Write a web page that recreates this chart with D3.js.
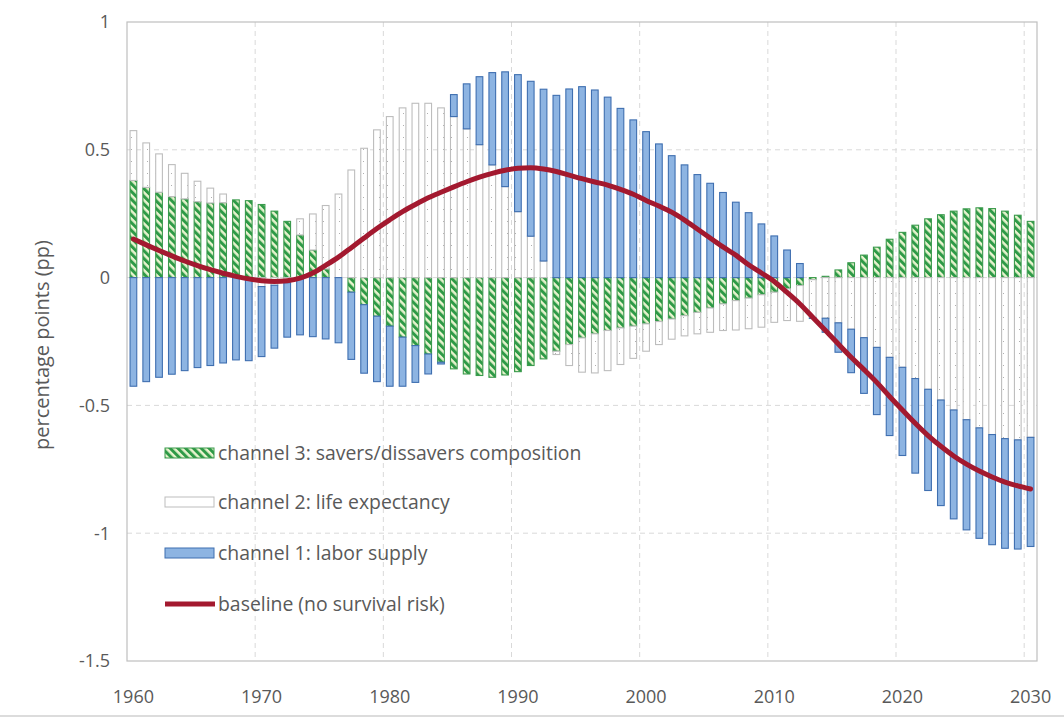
<!DOCTYPE html>
<html>
<head>
<meta charset="utf-8">
<script src="https://cdn.jsdelivr.net/npm/d3@7"></script>
<style>
body { margin: 0; background: #fff; }
text { font-family: "Open Sans", "Noto Sans", sans-serif; fill: #595959; }
</style>
</head>
<body>
<svg width="1064" height="720"></svg>
<script>
// one value per year, 1960 ... 2030
var years = d3.range(1960, 2031);

// channel 3: savers/dissavers composition
var composition = [
	0.380, 0.353, 0.334, 0.317, 0.308, 0.297, 0.292, 0.293, 0.304, 0.301,
	0.286, 0.260, 0.220, 0.167, 0.108, 0.034, 0.000, -0.057, -0.106, -0.151,
	-0.190, -0.233, -0.266, -0.299, -0.331, -0.357, -0.377, -0.383, -0.390, -0.381,
	-0.368, -0.344, -0.318, -0.288, -0.262, -0.236, -0.220, -0.207, -0.197, -0.190,
	-0.181, -0.172, -0.162, -0.149, -0.136, -0.119, -0.103, -0.090, -0.080, -0.067,
	-0.057, -0.044, -0.031, -0.008, 0.005, 0.030, 0.058, 0.088, 0.119, 0.150,
	0.177, 0.205, 0.230, 0.246, 0.260, 0.269, 0.273, 0.270, 0.260, 0.244, 0.220
];

// channel 2: life expectancy
var lifeExpectancy = [
	0.195, 0.174, 0.150, 0.125, 0.100, 0.080, 0.058, 0.034, 0.000, -0.010,
	-0.035, -0.030, -0.020, 0.063, 0.141, 0.248, 0.327, 0.421, 0.506, 0.578,
	0.630, 0.664, 0.682, 0.682, 0.664, 0.630, 0.582, 0.520, 0.441, 0.356,
	0.258, 0.162, 0.065, -0.013, -0.082, -0.134, -0.153, -0.157, -0.143, -0.126,
	-0.107, -0.090, -0.079, -0.079, -0.084, -0.095, -0.104, -0.115, -0.120, -0.127,
	-0.118, -0.124, -0.140, -0.150, -0.159, -0.177, -0.202, -0.235, -0.273, -0.312,
	-0.351, -0.395, -0.437, -0.479, -0.518, -0.556, -0.588, -0.614, -0.630, -0.635, -0.625
];

// channel 1: labor supply
var laborSupply = [
	-0.425, -0.407, -0.390, -0.378, -0.364, -0.352, -0.344, -0.334, -0.322, -0.315,
	-0.274, -0.246, -0.213, -0.224, -0.231, -0.240, -0.255, -0.263, -0.268, -0.256,
	-0.235, -0.192, -0.144, -0.078, -0.007, 0.086, 0.176, 0.266, 0.361, 0.449,
	0.536, 0.606, 0.672, 0.713, 0.738, 0.747, 0.734, 0.706, 0.662, 0.617,
	0.571, 0.523, 0.477, 0.441, 0.403, 0.369, 0.333, 0.295, 0.254, 0.210,
	0.163, 0.108, 0.055, -0.002, -0.055, -0.115, -0.170, -0.218, -0.263, -0.306,
	-0.345, -0.370, -0.396, -0.413, -0.426, -0.431, -0.432, -0.431, -0.429, -0.427, -0.427
];

// baseline (no survival risk)
var baseline = [
	0.151, 0.128, 0.106, 0.085, 0.065, 0.047, 0.031, 0.017, 0.005, -0.005,
	-0.012, -0.015, -0.012, -0.002, 0.018, 0.048, 0.080, 0.117, 0.155, 0.192,
	0.226, 0.258, 0.286, 0.312, 0.334, 0.355, 0.375, 0.393, 0.408, 0.420,
	0.428, 0.430, 0.425, 0.415, 0.401, 0.387, 0.374, 0.362, 0.345, 0.326,
	0.302, 0.280, 0.256, 0.225, 0.190, 0.155, 0.120, 0.088, 0.050, 0.018,
	-0.015, -0.058, -0.103, -0.155, -0.207, -0.260, -0.312, -0.360, -0.410, -0.465,
	-0.518, -0.570, -0.618, -0.660, -0.698, -0.730, -0.757, -0.780, -0.800, -0.815, -0.827
];

var yTicks = [1, 0.5, 0, -0.5, -1, -1.5];
var xTicks = [1960, 1970, 1980, 1990, 2000, 2010, 2020, 2030];
var yTitle = "percentage points (pp)";

var legendItems = [
	{key: "ch3", label: "channel 3: savers/dissavers composition"},
	{key: "ch2", label: "channel 2: life expectancy"},
	{key: "ch1", label: "channel 1: labor supply"},
	{key: "base", label: "baseline (no survival risk)"}
];

var plotLeft = 127, plotRight = 1037, plotTop = 22, plotBottom = 661;

var svg = d3.select("svg");

var defs = svg.append("defs");
var hatch = defs.append("pattern")
	.attr("id", "hatch")
	.attr("patternUnits", "userSpaceOnUse")
	.attr("width", 5.5).attr("height", 5.5)
	.attr("patternTransform", "rotate(-45)");
hatch.append("rect").attr("width", 5.5).attr("height", 5.5).attr("fill", "#e9f4cf");
hatch.append("rect").attr("width", 3).attr("height", 5.5).attr("fill", "#2e9a47");

var dots = defs.append("pattern")
	.attr("id", "dots")
	.attr("patternUnits", "userSpaceOnUse")
	.attr("width", 8).attr("height", 12);
dots.append("rect").attr("width", 8).attr("height", 12).attr("fill", "#fff");
dots.append("rect").attr("x", 3).attr("y", 5).attr("width", 1).attr("height", 1).attr("fill", "#b0b0b0");

var x = d3.scaleBand()
	.domain(years)
	.range([plotLeft, plotRight])
	.paddingInner(0.4)
	.paddingOuter(0.2);

var y = d3.scaleLinear()
	.domain([-1.5, 1])
	.range([plotBottom, plotTop]);

// gridlines
var grid = svg.append("g");
grid.selectAll(".hgrid")
	.data(yTicks.slice(1, -1))
	.enter()
	.append("line")
	.attr("x1", plotLeft).attr("x2", plotRight)
	.attr("y1", function(d) { return y(d); })
	.attr("y2", function(d) { return y(d); })
	.attr("stroke", "#d9d9d9")
	.attr("stroke-dasharray", "5,4");

grid.selectAll(".vgrid")
	.data(xTicks.slice(1))
	.enter()
	.append("line")
	.attr("x1", function(d) { return x(d) - x.step() * x.paddingInner() / 2; })
	.attr("x2", function(d) { return x(d) - x.step() * x.paddingInner() / 2; })
	.attr("y1", plotTop).attr("y2", plotBottom)
	.attr("stroke", "#d9d9d9")
	.attr("stroke-dasharray", "5,4");

svg.append("rect")
	.attr("x", plotLeft).attr("y", plotTop)
	.attr("width", plotRight - plotLeft).attr("height", plotBottom - plotTop)
	.attr("fill", "none")
	.attr("stroke", "#bfbfbf")
	.attr("stroke-width", 1.2);

// stacked bars
var rows = years.map(function(yr, i) {
	return {year: yr, ch3: composition[i], ch2: lifeExpectancy[i], ch1: laborSupply[i]};
});

var stack = d3.stack()
	.keys(["ch3", "ch2", "ch1"])
	.offset(d3.stackOffsetDiverging);

var styles = {
	ch3: {fill: "url(#hatch)", stroke: "#3a9a4c"},
	ch2: {fill: "url(#dots)", stroke: "#bdbdbd"},
	ch1: {fill: "#8db4e2", stroke: "#3f6fb0"}
};

var series = svg.append("g")
	.selectAll("g")
	.data(stack(rows))
	.enter()
	.append("g")
	.attr("fill", function(d) { return styles[d.key].fill; })
	.attr("stroke", function(d) { return styles[d.key].stroke; });

series.selectAll("rect")
	.data(function(d) { return d.filter(function(p) { return p[1] - p[0] != 0; }); })
	.enter()
	.append("rect")
	.attr("x", function(d) { return x(d.data.year) + 0.5; })
	.attr("width", x.bandwidth() - 1)
	.attr("y", function(d) { return y(d[1]); })
	.attr("height", function(d) { return y(d[0]) - y(d[1]); })
	.attr("stroke-width", 1.1);

// baseline curve
var line = d3.line()
	.x(function(d, i) { return x(years[i]) + x.bandwidth() / 2; })
	.y(function(d) { return y(d); })
	.curve(d3.curveMonotoneX);

svg.append("path")
	.datum(baseline)
	.attr("d", line)
	.attr("fill", "none")
	.attr("stroke", "#a3192f")
	.attr("stroke-width", 5)
	.attr("stroke-linecap", "round");

// axes labels
svg.selectAll(".ytick")
	.data(yTicks)
	.enter()
	.append("text")
	.attr("x", 110)
	.attr("y", function(d) { return y(d); })
	.attr("dy", "0.35em")
	.attr("text-anchor", "end")
	.attr("font-size", 18)
	.text(function(d) { return String(d); });

svg.selectAll(".xtick")
	.data(xTicks)
	.enter()
	.append("text")
	.attr("x", function(d) { return x(d) + x.bandwidth() / 2; })
	.attr("y", 697)
	.attr("dy", "0.35em")
	.attr("text-anchor", "middle")
	.attr("font-size", 18)
	.text(function(d) { return d; });

svg.append("text")
	.attr("transform", "translate(42,345) rotate(-90)")
	.attr("dy", "0.35em")
	.attr("text-anchor", "middle")
	.attr("font-size", 20)
	.text(yTitle);

// legend
var legend = svg.append("g")
	.selectAll("g")
	.data(legendItems)
	.enter()
	.append("g")
	.attr("transform", function(d, i) { return "translate(165," + [453, 502, 553, 604][i] + ")"; });

legend.each(function(d) {
	var g = d3.select(this);
	if (d.key == "base") {
		g.append("line")
			.attr("x1", 0).attr("x2", 50)
			.attr("stroke", "#a3192f")
			.attr("stroke-width", 5);
	} else {
		g.append("rect")
			.attr("x", 0).attr("y", -5)
			.attr("width", 49).attr("height", 10)
			.attr("fill", styles[d.key].fill)
			.attr("stroke", styles[d.key].stroke);
	}
	g.append("text")
		.attr("x", 53)
		.attr("dy", "0.35em")
		.attr("font-size", 19.4)
		.text(d.label);
});

svg.append("line")
	.attr("x1", 0).attr("x2", 1064)
	.attr("y1", 716).attr("y2", 716)
	.attr("stroke", "#dcdcdc")
	.attr("stroke-width", 2);
</script>
</body>
</html>
